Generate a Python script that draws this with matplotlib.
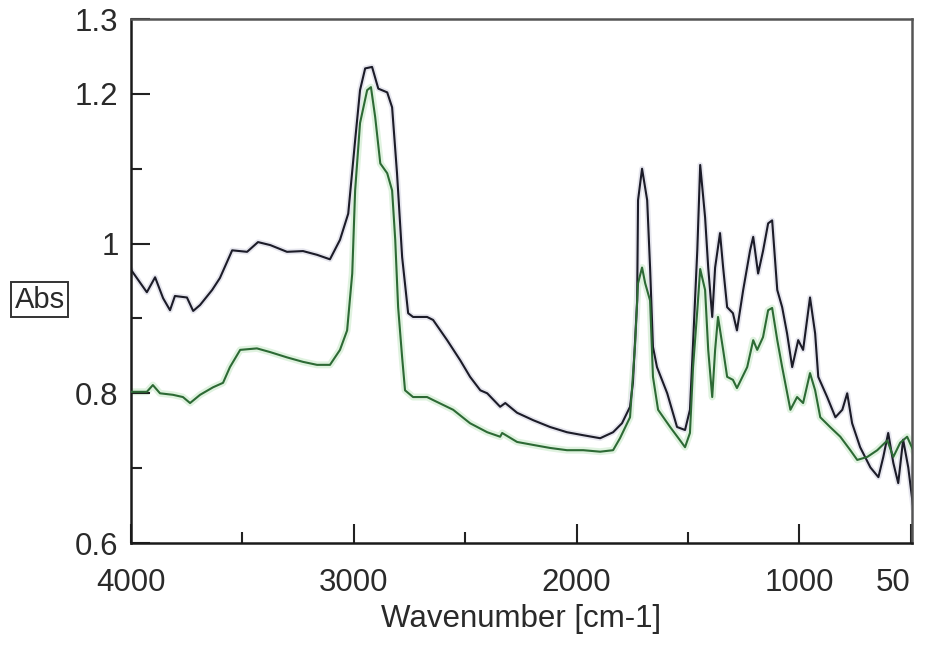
"""
FTIR absorbance spectra, two samples
"""

import matplotlib
matplotlib.use("Agg")
import matplotlib.pyplot as plt

# black spectrum (wavenumber cm-1, absorbance)
black_wn = [4000, 3929, 3892, 3856, 3825, 3803, 3749, 3721, 3690, 3636, 3601,
            3546, 3479, 3430, 3375, 3300, 3228, 3165, 3107, 3062, 3025, 2994,
            2972, 2949, 2918, 2890, 2850, 2828, 2806, 2783, 2756, 2734, 2671,
            2644, 2581, 2522, 2478, 2432, 2401, 2343, 2320, 2267, 2194, 2119,
            2043, 1970, 1894, 1836, 1796, 1760, 1747, 1728, 1724, 1706, 1683,
            1670, 1657, 1639, 1593, 1549, 1513, 1491, 1477, 1458, 1445, 1423,
            1409, 1391, 1378, 1356, 1342, 1324, 1298, 1280, 1252, 1221, 1207,
            1185, 1163, 1140, 1122, 1099, 1077, 1055, 1032, 1005, 983, 952,
            929, 915, 875, 838, 807, 785, 763, 727, 681, 645, 623, 601, 578,
            556, 534, 511, 489]
black_abs = [0.965, 0.935, 0.955, 0.927, 0.911, 0.930, 0.928, 0.910, 0.918,
             0.938, 0.954, 0.991, 0.989, 1.002, 0.998, 0.989, 0.990, 0.985,
             0.979, 1.005, 1.040, 1.138, 1.205, 1.234, 1.236, 1.207, 1.202,
             1.182, 1.094, 0.982, 0.907, 0.902, 0.902, 0.898, 0.871, 0.844,
             0.822, 0.804, 0.800, 0.782, 0.787, 0.774, 0.764, 0.755, 0.748,
             0.744, 0.740, 0.748, 0.760, 0.782, 0.814, 0.924, 1.058, 1.100,
             1.058, 0.968, 0.862, 0.835, 0.800, 0.755, 0.751, 0.778, 0.867,
             0.991, 1.105, 1.035, 0.968, 0.902, 0.968, 1.014, 0.968, 0.915,
             0.907, 0.884, 0.938, 0.991, 1.009, 0.960, 0.990, 1.027, 1.031,
             0.938, 0.915, 0.880, 0.835, 0.871, 0.858, 0.928, 0.880, 0.822,
             0.795, 0.768, 0.778, 0.800, 0.760, 0.728, 0.701, 0.688, 0.715,
             0.747, 0.707, 0.680, 0.738, 0.701, 0.648]

# green spectrum
green_wn = [4000, 3929, 3902, 3870, 3812, 3767, 3735, 3690, 3632, 3587, 3556,
            3510, 3435, 3375, 3300, 3228, 3165, 3107, 3062, 3030, 3007, 2994,
            2972, 2940, 2923, 2904, 2881, 2850, 2828, 2814, 2801, 2783, 2770,
            2734, 2671, 2644, 2554, 2478, 2401, 2343, 2334, 2267, 2194, 2119,
            2043, 1970, 1894, 1836, 1805, 1760, 1737, 1724, 1706, 1692, 1670,
            1657, 1634, 1580, 1535, 1513, 1491, 1477, 1458, 1445, 1423, 1409,
            1391, 1378, 1365, 1342, 1324, 1298, 1280, 1234, 1207, 1189, 1163,
            1140, 1122, 1099, 1077, 1040, 1010, 983, 952, 929, 906, 862, 816,
            771, 740, 695, 650, 605, 578, 547, 516, 489]
green_abs = [0.802, 0.802, 0.811, 0.800, 0.798, 0.795, 0.787, 0.798, 0.808,
             0.814, 0.835, 0.858, 0.860, 0.855, 0.848, 0.842, 0.838, 0.838,
             0.858, 0.884, 0.960, 1.071, 1.161, 1.205, 1.209, 1.169, 1.107,
             1.094, 1.071, 1.005, 0.915, 0.848, 0.804, 0.795, 0.795, 0.791,
             0.778, 0.760, 0.748, 0.742, 0.747, 0.735, 0.731, 0.727, 0.724,
             0.724, 0.722, 0.724, 0.740, 0.768, 0.867, 0.947, 0.968, 0.947,
             0.924, 0.822, 0.778, 0.755, 0.737, 0.728, 0.747, 0.835, 0.911,
             0.966, 0.938, 0.858, 0.795, 0.858, 0.902, 0.858, 0.822, 0.818,
             0.807, 0.835, 0.871, 0.858, 0.875, 0.911, 0.914, 0.871, 0.835,
             0.778, 0.795, 0.787, 0.827, 0.804, 0.768, 0.755, 0.742, 0.724,
             0.711, 0.715, 0.724, 0.737, 0.715, 0.734, 0.742, 0.724]

x_ticks = [4000, 3000, 2000, 1000, 500]
x_labels = ["4000", "3000", "2000", "1000", "50"]
y_ticks = [0.6, 0.8, 1.0, 1.2, 1.3]
y_labels = ["0.6", "0.8", "1", "1.2", "1.3"]

TXT = "#2a2a2a"
plt.rcParams["font.family"] = ["Liberation Sans", "DejaVu Sans"]

fig = plt.figure(figsize=(9.28, 6.49), dpi=100)
ax = fig.add_axes([0.1412, 0.1633, 0.8416, 0.8074])

# soft halos like the scanned original, then the traces
ax.plot(green_wn, green_abs, color="#dff2df", linewidth=5, zorder=1)
ax.plot(black_wn, black_abs, color="#e6e6ee", linewidth=4, zorder=1)
ax.plot(green_wn, green_abs, color="#2d6a35", linewidth=1.5, zorder=3)
ax.plot(black_wn, black_abs, color="#1c1c28", linewidth=1.5, zorder=2)

ax.set_xlim(4000, 494)
ax.set_ylim(0.6, 1.3)

ax.set_xticks(x_ticks)
ax.set_xticklabels(x_labels)
ax.set_xticks([3500, 2500, 1500], minor=True)
ax.set_yticks(y_ticks)
ax.set_yticklabels(y_labels)
ax.set_yticks([0.7, 0.9, 1.1], minor=True)
ax.get_xticklabels()[-1].set_horizontalalignment("right")

ax.tick_params(which="both", direction="in", top=False, right=False,
               color="#222222", width=1.5, labelsize=22.5, labelcolor=TXT)
ax.tick_params(which="major", length=14)
ax.tick_params(which="minor", length=8)
ax.tick_params(axis="x", pad=18)
ax.tick_params(axis="y", pad=9)

for side in ["left", "bottom"]:
    ax.spines[side].set_linewidth(1.8)
    ax.spines[side].set_color("#1a1a1a")
for side in ["top", "right"]:
    ax.spines[side].set_linewidth(1.8)
    ax.spines[side].set_color("#555555")

ax.set_xlabel("Wavenumber [cm-1]", fontsize=22.5, color=TXT, labelpad=4)

fig.text(0.043, 0.538, "Abs", fontsize=21, color=TXT, ha="center", va="center",
         bbox=dict(boxstyle="square,pad=0.12", facecolor="white",
                   edgecolor="#333333", linewidth=1.4))

plt.savefig("out.png", dpi=100)
